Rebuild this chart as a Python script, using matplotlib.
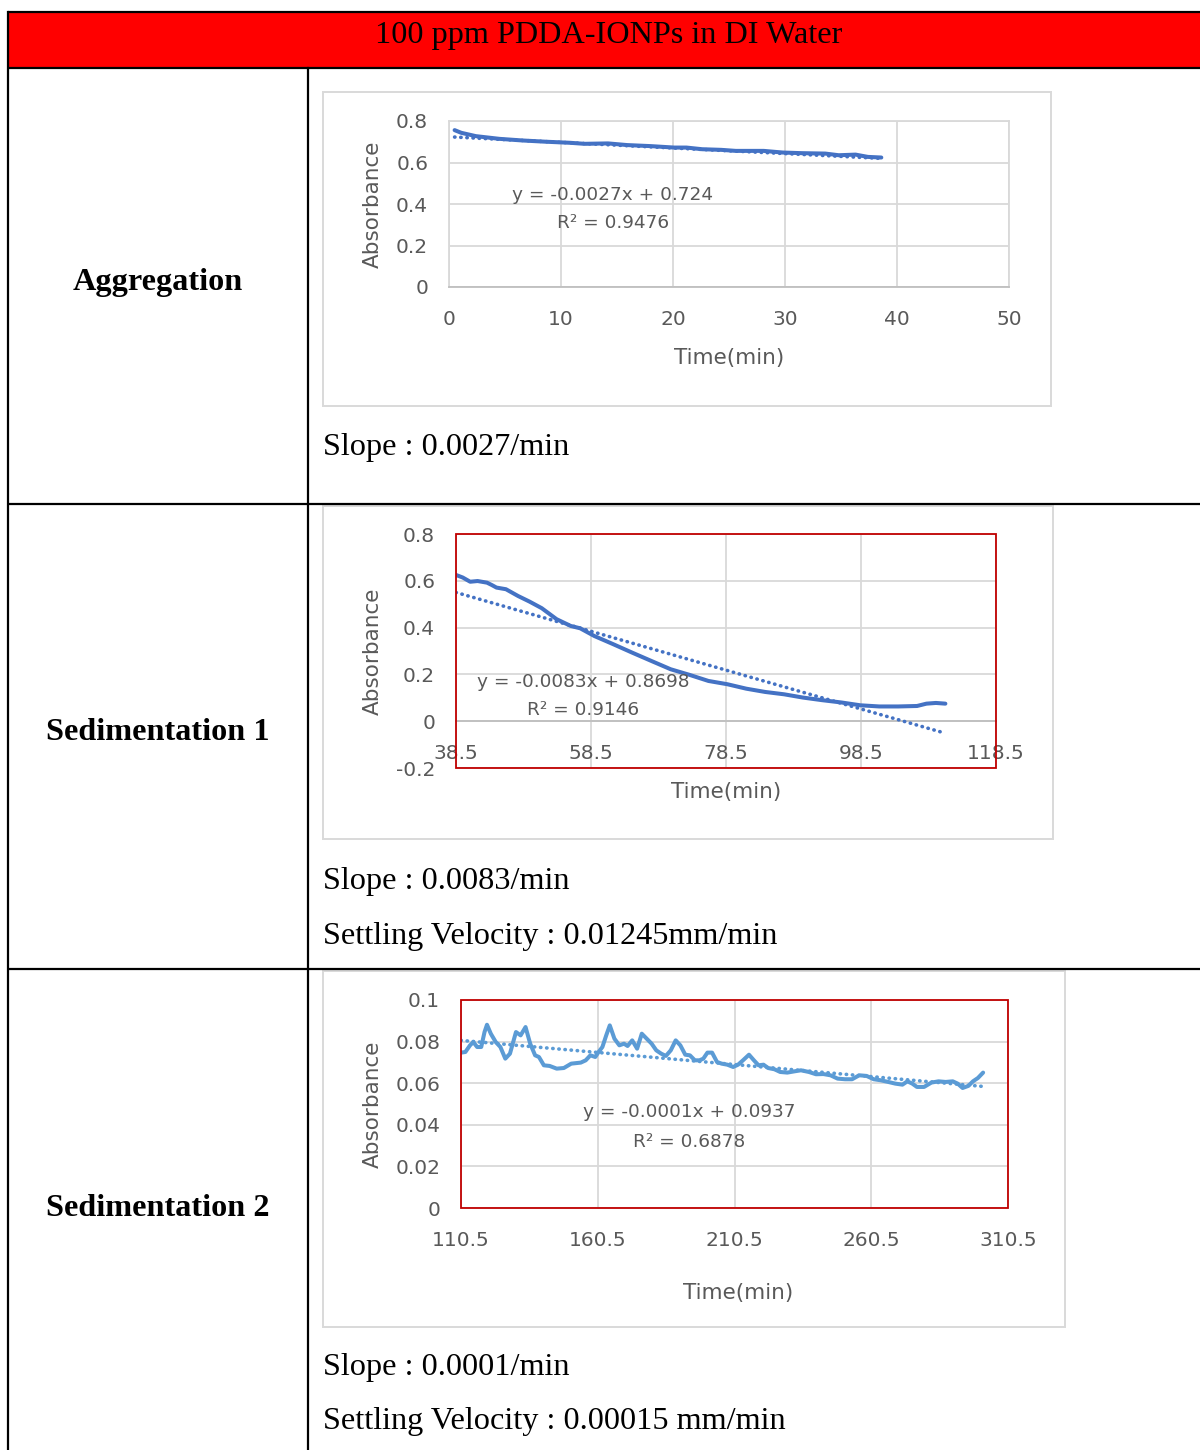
import numpy as np
import matplotlib
matplotlib.use("Agg")
import matplotlib.pyplot as plt
from matplotlib.patches import Rectangle

# ---------------- data ----------------
title = "100 ppm PDDA-IONPs in DI Water"
row_labels = ["Aggregation", "Sedimentation 1", "Sedimentation 2"]

agg_time = [0.5, 1.1, 2.4, 4.5, 6.6, 8.7, 10.8, 12.1, 14.2, 15.9, 18.0, 20.1, 21.2,
            22.6, 24.3, 25.6, 28.1, 29.8, 31.5, 33.6, 34.8, 36.3, 37.4, 38.6]
agg_abs = [0.756, 0.743, 0.727, 0.714, 0.706, 0.700, 0.695, 0.690, 0.692, 0.684, 0.679,
           0.672, 0.672, 0.664, 0.661, 0.656, 0.656, 0.648, 0.645, 0.643, 0.635, 0.638,
           0.627, 0.624]
agg_fit = (-0.0027, 0.724)
agg_eq = ["y = -0.0027x + 0.724", "R² = 0.9476"]

sed1_time = [38.5, 39.5, 40.6, 41.7, 43.1, 43.8, 44.5, 45.9, 47.7, 49.4, 51.2, 53.4, 55.5,
             56.9, 59.0, 61.8, 64.6, 67.4, 70.3, 73.1, 75.9, 78.7, 81.5, 84.3, 87.1, 89.9,
             92.7, 95.6, 98.4, 101.2, 104.0, 106.8, 108.2, 109.6, 111.0]
sed1_abs = [0.625, 0.614, 0.596, 0.599, 0.592, 0.582, 0.571, 0.564, 0.535, 0.511, 0.483,
            0.436, 0.407, 0.397, 0.364, 0.329, 0.293, 0.258, 0.222, 0.198, 0.172, 0.158,
            0.139, 0.125, 0.115, 0.101, 0.090, 0.080, 0.068, 0.063, 0.063, 0.065, 0.075,
            0.078, 0.075]
sed1_fit = (-0.0083, 0.8698)
sed1_eq = ["y = -0.0083x + 0.8698", "R² = 0.9146"]

sed2_time = [110.5, 112.1, 113.8, 115.0, 116.4, 117.9, 119.1, 120.0, 121.4, 123.2, 124.9,
             126.7, 128.4, 130.6, 132.3, 134.1, 135.8, 137.6, 139.0, 140.8, 142.9, 145.5,
             148.1, 150.8, 154.3, 156.1, 157.8, 159.6, 160.8, 162.2, 163.6, 164.9, 166.6,
             168.4, 170.1, 171.4, 173.1, 174.9, 176.6, 178.4, 180.2, 181.9, 183.7, 185.4,
             187.2, 189.0, 190.7, 192.5, 194.2, 196.0, 197.7, 199.1, 200.6, 202.3, 204.1,
             205.8, 207.9, 210.0, 211.8, 213.6, 215.8, 217.6, 219.3, 221.1, 222.8, 225.1,
             227.2, 229.8, 232.4, 234.8, 237.7, 240.3, 243.0, 245.6, 248.2, 250.9, 253.5,
             256.1, 258.8, 261.4, 264.0, 266.7, 269.3, 271.9, 273.7, 275.5, 277.2, 279.8,
             282.5, 285.1, 287.7, 290.3, 292.1, 293.9, 296.0, 297.7, 299.5, 301.4]
sed2_abs = [0.0747, 0.0750, 0.0782, 0.0798, 0.0774, 0.0774, 0.0846, 0.0881, 0.0838, 0.0798,
            0.0774, 0.0718, 0.0742, 0.0846, 0.0830, 0.0870, 0.0790, 0.0734, 0.0726, 0.0686,
            0.0683, 0.0670, 0.0673, 0.0694, 0.0699, 0.0710, 0.0734, 0.0726, 0.0750, 0.0774,
            0.0830, 0.0878, 0.0814, 0.0782, 0.0790, 0.0779, 0.0806, 0.0766, 0.0838, 0.0814,
            0.0790, 0.0758, 0.0742, 0.0731, 0.0758, 0.0806, 0.0782, 0.0737, 0.0734, 0.0710,
            0.0710, 0.0718, 0.0747, 0.0747, 0.0702, 0.0694, 0.0689, 0.0678, 0.0689, 0.0710,
            0.0737, 0.0710, 0.0686, 0.0689, 0.0673, 0.0667, 0.0654, 0.0651, 0.0657, 0.0662,
            0.0654, 0.0643, 0.0644, 0.0638, 0.0622, 0.0619, 0.0619, 0.0638, 0.0635, 0.0619,
            0.0614, 0.0606, 0.0598, 0.0593, 0.0609, 0.0598, 0.0582, 0.0582, 0.0603, 0.0609,
            0.0606, 0.0609, 0.0598, 0.0577, 0.0587, 0.0609, 0.0625, 0.0651]
sed2_fit = (-0.000116, 0.0934)
sed2_eq = ["y = -0.0001x + 0.0937", "R² = 0.6878"]

agg_xticks = [0, 10, 20, 30, 40, 50]
agg_yticks = [0, 0.2, 0.4, 0.6, 0.8]
agg_ylabels = ["0", "0.2", "0.4", "0.6", "0.8"]
sed1_xticks = [38.5, 58.5, 78.5, 98.5, 118.5]
sed1_yticks = [-0.2, 0, 0.2, 0.4, 0.6, 0.8]
sed1_ylabels = ["-0.2", "0", "0.2", "0.4", "0.6", "0.8"]
sed2_xticks = [110.5, 160.5, 210.5, 260.5, 310.5]
sed2_yticks = [0, 0.02, 0.04, 0.06, 0.08, 0.1]
sed2_ylabels = ["0", "0.02", "0.04", "0.06", "0.08", "0.1"]

notes = [["Slope : 0.0027/min"],
         ["Slope : 0.0083/min", "Settling Velocity : 0.01245mm/min"],
         ["Slope : 0.0001/min", "Settling Velocity : 0.00015 mm/min"]]

# ---------------- layout ----------------
W, H = 1200, 1450
fig = plt.figure(figsize=(12, 14.5), dpi=100)
bg = fig.add_axes([0, 0, 1, 1])
bg.set_xlim(0, W)
bg.set_ylim(H, 0)
bg.axis("off")

SERIF = "Liberation Serif"
GREY_TXT = "#595959"
GRID = "#d9d9d9"
lw_tab = 1.6
FS_SERIF = 23.2

# header
bg.add_patch(Rectangle((8, 12), W - 8, 56, facecolor="#ff0000", edgecolor="none"))
bg.text(609, 35, title, ha="center", va="center", fontsize=FS_SERIF, family=SERIF, color="black")
for y in [12, 68, 504, 969]:
    bg.plot([8, W], [y, y], color="black", lw=lw_tab, solid_capstyle="butt")
bg.plot([8, 8], [12, H], color="black", lw=lw_tab)
bg.plot([308, 308], [68, H], color="black", lw=lw_tab)

row_label_y = [282, 732, 1208]
for lab, y in zip(row_labels, row_label_y):
    bg.text(158, y, lab, ha="center", va="center", fontsize=FS_SERIF, family=SERIF,
            weight="bold", color="black")

note_y = [[447], [881, 936], [1367, 1422]]
for ns, ys in zip(notes, note_y):
    for n, y in zip(ns, ys):
        bg.text(323, y, n, ha="left", va="center", fontsize=FS_SERIF, family=SERIF, color="black")

frames = [(323, 92, 1051, 406), (323, 506, 1053, 839), (323, 971, 1065, 1327)]
for (l, t, r, b) in frames:
    bg.add_patch(Rectangle((l, t), r - l, b - t, facecolor="white", edgecolor=GRID, lw=1.4))


def add_ax(l, t, r, b):
    return fig.add_axes([l / W, 1 - b / H, (r - l) / W, (b - t) / H])


def style(ax, xticks, yticks, ylabels, xlim, ylim):
    ax.set_xlim(*xlim)
    ax.set_ylim(*ylim)
    ax.set_xticks(xticks)
    ax.set_xticklabels([("%g" % v) for v in xticks])
    ax.set_yticks(yticks)
    ax.set_yticklabels(ylabels)
    ax.grid(True, color=GRID, lw=1.3)
    ax.set_axisbelow(True)
    ax.tick_params(axis="both", length=0, labelsize=14.5, labelcolor=GREY_TXT)
    ax.tick_params(axis="x", pad=16.5)
    ax.tick_params(axis="y", pad=15)
    ax.set_facecolor("none")


def trend(ax, xs, fit, color):
    x0, x1 = xs[0], xs[-1]
    xx = np.array([x0, x1])
    ax.plot(xx, fit[0] * xx + fit[1], color=color, lw=2.6, linestyle=(0, (0.1, 1.6)),
            dash_capstyle="round", zorder=3)


BLUE = "#4472C4"
LBLUE = "#5B9BD5"
RED = "#C00000"
LW = 2.9

# chart 1
ax1 = add_ax(449, 121, 1009, 287)
style(ax1, agg_xticks, agg_yticks, agg_ylabels, (0, 50), (0, 0.8))
for s in ax1.spines.values():
    s.set_color(GRID)
    s.set_linewidth(1.3)
ax1.spines["bottom"].set_color("#bfbfbf")
trend(ax1, agg_time, agg_fit, BLUE)
ax1.plot(agg_time, agg_abs, color=BLUE, lw=LW, zorder=4, solid_capstyle="round")

# chart 2
ax2 = add_ax(456, 534, 996, 768)
style(ax2, sed1_xticks, sed1_yticks, sed1_ylabels, (38.5, 118.5), (-0.2, 0.8))
for k in ["top", "right", "left"]:
    ax2.spines[k].set_visible(False)
ax2.spines["bottom"].set_position(("data", 0))
ax2.spines["bottom"].set_color("#bfbfbf")
ax2.spines["bottom"].set_linewidth(1.3)
ax2.add_patch(Rectangle((0, 0), 1, 1, transform=ax2.transAxes, fill=False,
                        edgecolor=RED, lw=1.3, clip_on=False, zorder=5))
trend(ax2, sed1_time, sed1_fit, BLUE)
ax2.plot(sed1_time, sed1_abs, color=BLUE, lw=LW, zorder=4, solid_capstyle="round")

# chart 3
ax3 = add_ax(461, 1000, 1008, 1208)
style(ax3, sed2_xticks, sed2_yticks, sed2_ylabels, (110.5, 310.5), (0, 0.1))
for s in ax3.spines.values():
    s.set_visible(False)
ax3.add_patch(Rectangle((0, 0), 1, 1, transform=ax3.transAxes, fill=False,
                        edgecolor=RED, lw=1.3, clip_on=False, zorder=5))
trend(ax3, sed2_time, sed2_fit, LBLUE)
ax3.plot(sed2_time, sed2_abs, color=LBLUE, lw=LW, zorder=4, solid_capstyle="round")

# axis titles and equations
ylab_pos = [(373, 204), (373, 651), (373, 1104)]
xlab_pos = [(729, 358), (726, 792), (738, 1293)]
for (x, y) in ylab_pos:
    bg.text(x, y, "Absorbance", rotation=90, ha="center", va="center", fontsize=15.5,
            color=GREY_TXT)
for (x, y) in xlab_pos:
    bg.text(x, y, "Time(min)", ha="center", va="center", fontsize=15.5, color=GREY_TXT)

eqs = [agg_eq, sed1_eq, sed2_eq]
eq_pos = [(613, 195, 223), (583, 682, 710), (689, 1112, 1142)]
for eq, (x, y1, y2) in zip(eqs, eq_pos):
    fig.text(x / W, 1 - y1 / H, eq[0], ha="center", va="center", fontsize=13.3,
             color=GREY_TXT, zorder=10)
    fig.text(x / W, 1 - y2 / H, eq[1], ha="center", va="center", fontsize=13.3,
             color=GREY_TXT, zorder=10)

fig.savefig("out.png", dpi=100, facecolor="white")
